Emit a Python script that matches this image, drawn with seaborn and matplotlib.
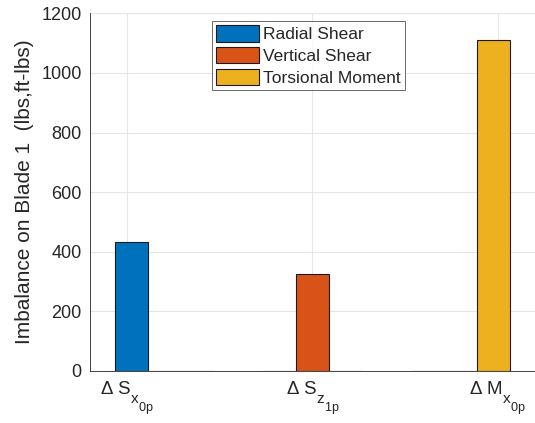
import matplotlib
matplotlib.use("Agg")
import matplotlib.pyplot as plt
import matplotlib._mathtext as _mt
import seaborn as sns
import pandas as pd

# Imbalance components on blade 1
groups = [r"Δ S$_{\mathrm{x}_{\mathrm{0p}}}$",
          r"Δ S$_{\mathrm{z}_{\mathrm{1p}}}$",
          r"Δ M$_{\mathrm{x}_{\mathrm{0p}}}$"]
series = ["Radial Shear", "Vertical Shear", "Torsional Moment"]
radial_shear = [432, 0, 0]
vertical_shear = [0, 326, 0]
torsional_moment = [0, 0, 1110]
colors = ["#0072BD", "#D95319", "#EDB120"]
yticks = [0, 200, 400, 600, 800, 1000, 1200]

# TeX-style subscripts: larger and dropped further below the baseline
_mt.SHRINK_FACTOR = 0.82
_mt.FontConstantsBase.sub1 = 0.95
_mt.FontConstantsBase.subdrop = 0.7

sns.set_theme(style="white")
plt.rcParams["font.family"] = ["Liberation Sans", "DejaVu Sans"]
plt.rcParams["mathtext.fontset"] = "custom"
plt.rcParams["mathtext.rm"] = "Liberation Sans"
plt.rcParams["mathtext.it"] = "Liberation Sans"

rows = []
for name, vals in zip(series, [radial_shear, vertical_shear, torsional_moment]):
    for g, v in zip(groups, vals):
        rows.append({"group": g, "series": name, "value": v})
df = pd.DataFrame(rows)

fig = plt.figure(figsize=(5.35, 4.23), dpi=100)
ax = fig.add_axes([0.168, 0.123, 0.832, 0.8456])

sns.barplot(data=df, x="group", y="value", hue="series", order=groups,
            hue_order=series, palette=colors, saturation=1, width=2 / 3,
            gap=0, edgecolor="#1a1a1a", linewidth=0.8, errorbar=None, ax=ax,
            zorder=3)

ax.set_xlim(-0.5, 2.5)
ax.set_ylim(0, 1200)
ax.set_yticks(yticks)
ax.set_xticks([-0.25, 1.0, 2.25])
ax.set_xticklabels(groups, fontsize=13.5)
ax.set_xlabel("")
ax.set_ylabel("Imbalance on Blade 1  (lbs,ft-lbs)", fontsize=15,
              color="#262626", labelpad=5)

ax.grid(True, color="#e6e6e6", linewidth=0.8, zorder=0)
ax.set_axisbelow(True)
for s in ["top", "right"]:
    ax.spines[s].set_visible(False)
for s in ["left", "bottom"]:
    ax.spines[s].set_color("#262626")
    ax.spines[s].set_linewidth(0.6)
ax.tick_params(axis="both", direction="in", length=3, width=0.6,
               colors="#262626", pad=6)
ax.tick_params(axis="y", labelsize=13)

leg = ax.legend(loc="upper center", bbox_to_anchor=(0.491, 0.978),
                fontsize=12.5, frameon=True, fancybox=False,
                edgecolor="#262626", handlelength=2.47, handleheight=1.05,
                labelspacing=0.28, borderpad=0.25, handletextpad=0.25,
                borderaxespad=0)
leg.get_frame().set_linewidth(0.6)
for t in leg.get_texts():
    t.set_color("#262626")

fig.savefig("out.png", dpi=100)
